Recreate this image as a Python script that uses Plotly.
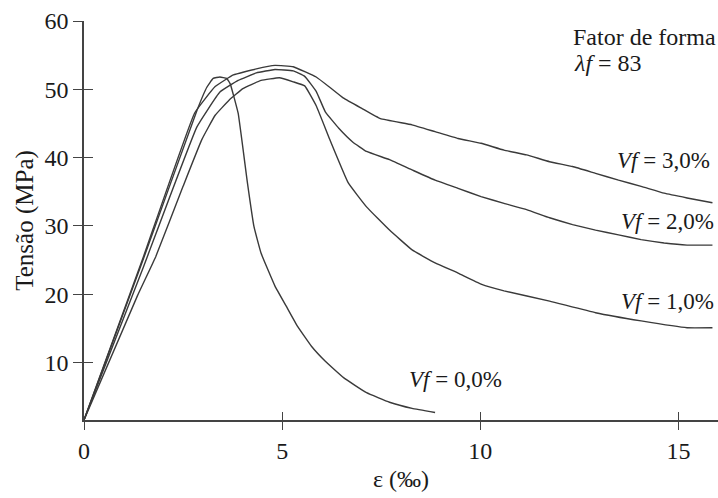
import plotly.graph_objects as go

# strain (‰) and stress (MPa)
eps_vf0 = [0.0, 1.5, 2.85, 3.1, 3.26, 3.43, 3.6, 3.69, 3.89, 4.12, 4.29, 4.47, 4.82, 5.10, 5.39, 5.74, 6.09, 6.55, 7.13, 7.71, 8.28, 8.86]
sig_vf0 = [1.6, 25.2, 46.9, 50.3, 51.6, 51.8, 51.6, 50.8, 46.5, 36.5, 29.9, 26.0, 21.2, 18.3, 15.3, 12.4, 10.2, 7.8, 5.6, 4.2, 3.3, 2.7]

eps_vf1 = [0.0, 1.35, 1.81, 2.50, 2.97, 3.31, 3.66, 4.01, 4.47, 4.93, 5.28, 5.57, 5.86, 6.20, 6.67, 7.13, 7.71, 8.28, 8.86, 9.44, 10.02, 10.6, 11.75, 12.91, 14.06, 15.22, 15.86]
sig_vf1 = [1.6, 19.8, 25.5, 35.8, 42.6, 46.2, 48.4, 50.1, 51.3, 51.7, 51.1, 50.5, 47.6, 42.7, 36.3, 32.8, 29.4, 26.5, 24.6, 23.1, 21.5, 20.5, 19.0, 17.3, 16.1, 15.1, 15.1]

eps_vf2 = [0.0, 1.5, 2.85, 3.43, 3.89, 4.35, 4.82, 5.28, 5.57, 5.86, 6.09, 6.43, 6.78, 7.13, 7.71, 8.28, 8.86, 9.44, 10.02, 10.6, 11.17, 11.75, 12.33, 12.91, 13.49, 14.06, 14.64, 15.22, 15.86]
sig_vf2 = [1.6, 24.0, 44.5, 49.6, 51.3, 52.4, 52.9, 52.7, 51.9, 49.7, 46.7, 44.3, 42.3, 40.9, 39.7, 38.2, 36.7, 35.5, 34.3, 33.3, 32.4, 31.2, 30.2, 29.4, 28.7, 28.0, 27.5, 27.2, 27.2]

eps_vf3 = [0.0, 1.5, 2.79, 3.31, 3.77, 4.35, 4.82, 5.28, 5.86, 6.20, 6.55, 7.01, 7.48, 8.28, 8.86, 9.44, 10.02, 10.6, 11.17, 11.75, 12.33, 12.91, 13.49, 14.06, 14.64, 15.22, 15.86]
sig_vf3 = [1.6, 25.5, 46.5, 50.4, 52.1, 53.0, 53.5, 53.3, 51.8, 50.3, 48.7, 47.2, 45.7, 44.8, 43.8, 42.8, 42.1, 41.1, 40.4, 39.4, 38.7, 37.7, 36.7, 35.8, 34.8, 34.1, 33.4]

x_ticks = [0, 5, 10, 15]
y_ticks = [10, 20, 30, 40, 50, 60]

FONT = "Liberation Serif, Times New Roman, Times, serif"
LC = "#3a3a3a"
TC = "#1a1a1a"

fig = go.Figure()
for xs, ys in [(eps_vf0, sig_vf0), (eps_vf1, sig_vf1), (eps_vf2, sig_vf2), (eps_vf3, sig_vf3)]:
    fig.add_trace(go.Scatter(x=xs, y=ys, mode="lines",
                             line=dict(color=LC, width=1.4, shape="spline", smoothing=0.3),
                             showlegend=False, hoverinfo="skip"))
# empty trace so the overlay axes (inner tick halves) are drawn
fig.add_trace(go.Scatter(x=[], y=[], xaxis="x2", yaxis="y2", showlegend=False))

XR = [0, 16]
YR = [1.6, 60]

fig.update_layout(
    width=718, height=498,
    margin=dict(l=84, r=0, t=21, b=78),
    paper_bgcolor="white", plot_bgcolor="white",
    font=dict(family=FONT, size=24, color=TC),
    xaxis=dict(range=XR, tickvals=x_ticks, ticks="outside", ticklen=8, tickwidth=1.3,
               tickcolor="#444", showline=True, linecolor="#444", linewidth=1.5,
               showgrid=False, zeroline=False, automargin=False,
               tickfont=dict(size=24, family=FONT, color=TC),
               title=dict(text="ε (‰)", font=dict(size=24, family=FONT, color=TC), standoff=8)),
    yaxis=dict(range=YR, tickvals=y_ticks, ticks="outside", ticklen=9, tickwidth=1.3,
               tickcolor="#444", showline=True, linecolor="#444", linewidth=1.5,
               showgrid=False, zeroline=False, automargin=False,
               tickfont=dict(size=24, family=FONT, color=TC),
               title=dict(text="Tensão (MPa)", font=dict(size=25, family=FONT, color=TC), standoff=4)),
    xaxis2=dict(range=XR, overlaying="x", anchor="y", side="bottom", tickvals=[5, 10, 15],
                ticks="inside", ticklen=8, tickwidth=1.3, tickcolor="#444", automargin=False,
                showticklabels=False, showline=False, showgrid=False, zeroline=False),
    yaxis2=dict(range=YR, overlaying="y", anchor="x", side="left", tickvals=y_ticks,
                ticks="inside", ticklen=9, tickwidth=1.3, tickcolor="#444", automargin=False,
                showticklabels=False, showline=False, showgrid=False, zeroline=False),
)

ann = [
    ("Fator de forma", 12.3, 57.7, "left", 24),
    ("<i>λf</i> = 83", 12.32, 53.8, "left", 24),
    ("<i>Vf</i> = 3,0%", 15.86, 39.6, "right", 23),
    ("<i>Vf</i> = 2,0%", 15.96, 30.6, "right", 23),
    ("<i>Vf</i> = 1,0%", 15.96, 19.0, "right", 23),
    ("<i>Vf</i> = 0,0%", 8.16, 7.6, "left", 23),
]
for txt, ax_, ay_, anc, fs in ann:
    fig.add_annotation(text=txt, x=ax_, y=ay_, xref="x", yref="y", showarrow=False,
                       xanchor=anc, yanchor="middle",
                       font=dict(size=fs, family=FONT, color=TC))

fig.write_html("out.html", config={"displayModeBar": False},
               post_script="document.body.style.margin='0';document.body.style.padding='0';")
